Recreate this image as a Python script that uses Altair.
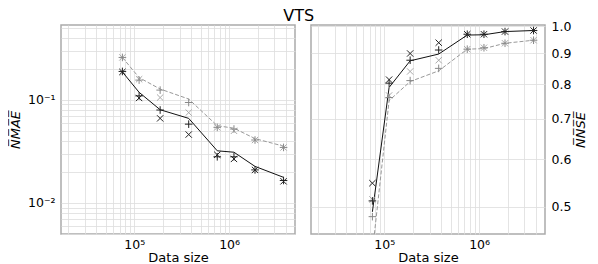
import altair as alt
import pandas as pd

sizes = [75000, 112500, 187500, 375000, 750000, 1125000, 1875000, 3750000]

# Left panel: NMAE
nmae_line_black = [0.186, 0.118, 0.080, 0.066, 0.032, 0.031, 0.0226, 0.0177]
nmae_x_black = [0.186, 0.104, 0.066, 0.046, 0.0293, 0.0267, 0.0209, 0.0162]
nmae_plus_black = [0.188, 0.109, 0.0795, 0.058, 0.028, 0.028, 0.0209, 0.0165]
nmae_line_grey = [0.257, 0.164, 0.127, 0.1016, 0.056, 0.053, 0.042, 0.0355]
nmae_x_grey = [0.257, 0.158, 0.105, 0.075, 0.054, 0.050, 0.0407, 0.0345]
nmae_plus_grey = [0.257, 0.155, 0.124, 0.094, 0.054, 0.052, 0.0407, 0.0345]

# Right panel: NNSE
nnse_line_black = [0.49, 0.79, 0.875, 0.898, 0.966, 0.967, 0.979, 0.983]
nnse_x_black = [0.547, 0.814, 0.900, 0.938, 0.969, 0.969, 0.979, 0.983]
nnse_plus_black = [0.511, 0.803, 0.877, 0.912, 0.969, 0.969, 0.979, 0.983]
nnse_line_grey = [0.42, 0.751, 0.808, 0.842, 0.915, 0.917, 0.936, 0.947]
nnse_x_grey = [0.514, 0.766, 0.840, 0.877, 0.915, 0.920, 0.936, 0.947]
nnse_plus_grey = [0.481, 0.760, 0.811, 0.850, 0.915, 0.920, 0.936, 0.947]

x_grid = [k * 10 ** e for e in (4, 5, 6) for k in range(1, 10) if 16900 <= k * 10 ** e <= 4.95e6]
y_left_grid = [k * 10.0 ** e for e in (-3, -2, -1) for k in range(1, 10) if 0.005 <= k * 10.0 ** e <= 0.53]
y_left_grid = [round(v, 6) for v in y_left_grid]
y_right_ticks = [0.5, 0.6, 0.7, 0.8, 0.9, 1.0]

X_PATH = "M-1,-1L1,1M-1,1L1,-1"
PLUS_PATH = "M-1.2,0L1.2,0M0,-1.2L0,1.2"

FONT = "DejaVu Sans"
W, H = 234, 209


def make_df(lb, xb, pb, lg, xg, pg):
    rows = []
    for name, vals in [("lb", lb), ("xb", xb), ("pb", pb), ("lg", lg), ("xg", xg), ("pg", pg)]:
        for s, v in zip(sizes, vals):
            rows.append({"size": s, "value": v, "series": name})
    return pd.DataFrame(rows)


x_axis = alt.Axis(
    values=x_grid,
    labelExpr="datum.value == 100000 ? '10⁵' : datum.value == 1000000 ? '10⁶' : ''",
    title="Data size",
    grid=True,
    ticks=False,
    labelPadding=4,
    titlePadding=1,
)
x_enc = alt.X("size:Q", scale=alt.Scale(type="log", domain=[16900, 4.95e6], nice=False), axis=x_axis)


def panel(df, ydomain, yaxis):
    y_enc = alt.Y("value:Q", scale=alt.Scale(type="log", domain=ydomain, nice=False), axis=yaxis)
    base = alt.Chart(df).encode(x=x_enc, y=y_enc)
    layers = [
        base.transform_filter(alt.datum.series == "lg").mark_line(
            clip=True, color="#999999", strokeWidth=1, strokeDash=[4, 2]),
        base.transform_filter(alt.datum.series == "lb").mark_line(
            clip=True, color="#111111", strokeWidth=1),
        base.transform_filter(alt.datum.series == "xg").mark_point(
            clip=True, shape=X_PATH, size=40, filled=False, color="#aaaaaa", strokeWidth=1, opacity=1),
        base.transform_filter(alt.datum.series == "pg").mark_point(
            clip=True, shape=PLUS_PATH, size=40, filled=False, color="#888888", strokeWidth=1, opacity=1),
        base.transform_filter(alt.datum.series == "xb").mark_point(
            clip=True, shape=X_PATH, size=40, filled=False, color="#222222", strokeWidth=1, opacity=1),
        base.transform_filter(alt.datum.series == "pb").mark_point(
            clip=True, shape=PLUS_PATH, size=40, filled=False, color="#222222", strokeWidth=1, opacity=1),
    ]
    return alt.layer(*layers).properties(width=W, height=H)


left_axis = alt.Axis(
    values=y_left_grid,
    labelExpr="datum.value == 0.1 ? '10⁻¹' : datum.value == 0.01 ? '10⁻²' : ''",
    title="N̅M̅A̅E̅",
    titleFontStyle="italic",
    grid=True,
    ticks=False,
    labelPadding=6,
    titlePadding=5,
)
right_axis = alt.Axis(
    values=y_right_ticks,
    format=".1f",
    orient="right",
    title="N̅N̅S̅E̅",
    titleFontStyle="italic",
    titleAngle=270,
    grid=True,
    ticks=False,
    labelPadding=6,
    titlePadding=17,
)

left = panel(make_df(nmae_line_black, nmae_x_black, nmae_plus_black,
                     nmae_line_grey, nmae_x_grey, nmae_plus_grey), [0.005, 0.53], left_axis)
right = panel(make_df(nnse_line_black, nnse_x_black, nnse_plus_black,
                      nnse_line_grey, nnse_x_grey, nnse_plus_grey), [0.45, 1.004], right_axis)

chart = alt.hconcat(left, right, spacing=14).properties(
    title=alt.TitleParams("VTS", fontSize=16, font=FONT, fontWeight="normal", anchor="middle", offset=-5),
    padding=0,
).configure(font=FONT).configure_view(
    stroke="#aaaaaa", strokeWidth=1.5
).configure_axis(
    labelFont=FONT, titleFont=FONT, labelFontSize=12.5, titleFontSize=13,
    labelColor="#000000", titleColor="#000000", titleFontWeight="normal",
    gridColor="#dddddd", gridWidth=0.8, domain=False, labelFlush=False, labelOverlap=False,
)

chart.save("out.html", embed_options={"renderer": "svg", "actions": False})
